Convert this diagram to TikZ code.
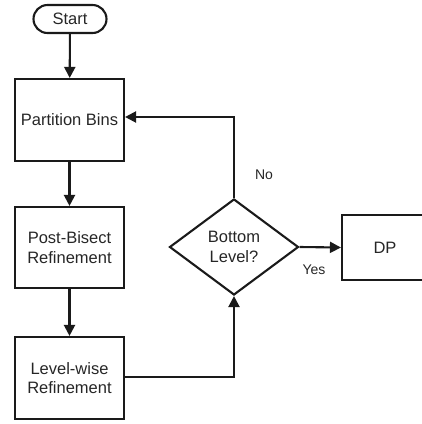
\documentclass[tikz,border=0pt]{standalone}
\usepackage{fontspec}
\setmainfont{Liberation Sans}
\usetikzlibrary{arrows.meta,shapes.geometric}
\definecolor{ink}{HTML}{1A1A1A}
\definecolor{txt}{HTML}{262626}
\begin{document}
\begin{tikzpicture}[x=1pt,y=-1pt,
  line width=2.1pt,
  every node/.style={text=txt},
  box/.style={draw=ink,line width=2.1pt,minimum width=109pt,minimum height=82pt,inner sep=0pt,align=center,font=\fontsize{16.5}{19.5}\selectfont},
  term/.style={draw=ink,line width=2.1pt,rounded corners=14pt,minimum width=73pt,minimum height=28pt,inner sep=0pt,font=\fontsize{16.5}{19.5}\selectfont},
  decision/.style={draw=ink,line width=2.1pt,diamond,minimum width=129pt,minimum height=96pt,inner sep=0pt,align=center,font=\fontsize{16.5}{19.5}\selectfont},
  lbl/.style={font=\fontsize{14}{16}\selectfont,inner sep=0pt},
  flow/.style={draw=ink,-{Triangle[length=11pt,width=11pt]}}]
\useasboundingbox (0,0) rectangle (422,424);
\node[term] (start) at (70,19) {Start};
\node[box] (pb) at (69.5,120) {Partition Bins};
\node[box,minimum height=81pt] (post) at (69.5,247.5) {Post-Bisect\\Refinement};
\node[box] (lw) at (69.5,378) {Level-wise\\Refinement};
\node[decision] (dec) at (234,247) {Bottom\\Level?};
\node[box,minimum width=86pt,minimum height=65pt] (dp) at (385,247.5) {DP};
\coordinate (c1) at (234,117);
\coordinate (c2) at (234,377);
\draw[flow] (start) -- (pb);
\draw[flow] (pb) -- (post);
\draw[flow] (post) -- (lw);
\draw[flow] (dec.north) -- (c1) -- (pb.east |- c1);
\draw[flow] (lw.east |- c2) -- (c2) -- (dec.south);
\draw[flow] (dec.east) -- (dp.west);
\node[lbl] (no) at (264,175) {No};
\node[lbl] (yes) at (314,270) {Yes};
\end{tikzpicture}
\end{document}
